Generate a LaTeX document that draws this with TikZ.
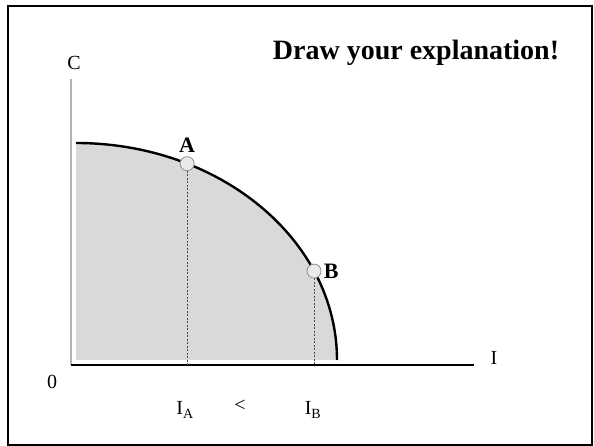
\documentclass[tikz,border=0pt]{standalone}
\usepackage{fontspec}
\setmainfont{Liberation Serif}
\usetikzlibrary{
  calc,                  % Coordinate math
  positioning            % Relative placement of labels
}

\begin{document}
\begin{tikzpicture}[x=1pt, y=1pt,
    axislabel/.style={font=\fontsize{20}{22}\selectfont},
    ptlabel/.style={font=\fontsize{22}{24}\selectfont\bfseries},
    bundle/.style={circle, draw=black!45, fill=black!8, line width=0.8pt, minimum size=14pt, inner sep=0pt}]
          \def\rI{261}       % Horizontal radius of the frontier
          \def\rC{217}       % Vertical radius of the frontier
          \def\tA{64.8}      % Angle of point A on the frontier
          \def\tB{24.2}      % Angle of point B on the frontier
          \useasboundingbox (0,0) rectangle (594,446);
          \draw[line width=2.6pt] (8,440) rectangle (592,1);
          \coordinate (O) at (71,81);
          \coordinate (F) at (76,86);
          \path (F) ++(0,\rC) coordinate (C_top);
          \path (F) ++(\rI,0) coordinate (I_end);
          \path (F) ++({\rI*cos(\tA)},{\rC*sin(\tA)}) coordinate (P_A);
          \path (F) ++({\rI*cos(\tB)},{\rC*sin(\tB)}) coordinate (P_B);
          % feasible set
          \fill[black!15] (F) -- (C_top) arc[start angle=90, end angle=0, x radius=\rI, y radius=\rC] -- cycle;
          % axes
          \draw[black!30, line width=1.4pt] (O) -- ++(0,286) coordinate (C_axis);
          \draw[line width=1.4pt] (O) -- ++(403,0) coordinate (I_axis);
          \draw[line width=2.4pt] (C_top) arc[start angle=90, end angle=0, x radius=\rI, y radius=\rC];
          \coordinate (A_foot) at (P_A |- O);
          \coordinate (B_foot) at (P_B |- O);
          \draw[dashed, black!70, line width=0.6pt, dash pattern=on 2pt off 1.5pt] (P_A) -- (A_foot);
          \draw[dashed, black!70, line width=0.6pt, dash pattern=on 2pt off 1.5pt] (P_B) -- (B_foot);
          \node[bundle] (A) at (P_A) {};
          \node[bundle] (B) at (P_B) {};
          \node[ptlabel, above=0pt of A] (A_lab) {A};
          \node[ptlabel, right=-1pt of B] (B_lab) {B};
          \node[axislabel] (C_lab) at (74,383) {C};
          \node[axislabel] (I_lab) at (494,88) {I};
          \node[axislabel] (zero) at (52,64) {0};
          \node[axislabel] (IA) at (185,36) {I\textsubscript{A}};
          \node[axislabel] (less) at (240,40) {<};
          \node[axislabel] (IB) at (313,36) {I\textsubscript{B}};
          \node[font=\fontsize{28}{30}\selectfont\bfseries, anchor=base] (title) at (416,386) {Draw your explanation!};
        \end{tikzpicture}
\end{document}
